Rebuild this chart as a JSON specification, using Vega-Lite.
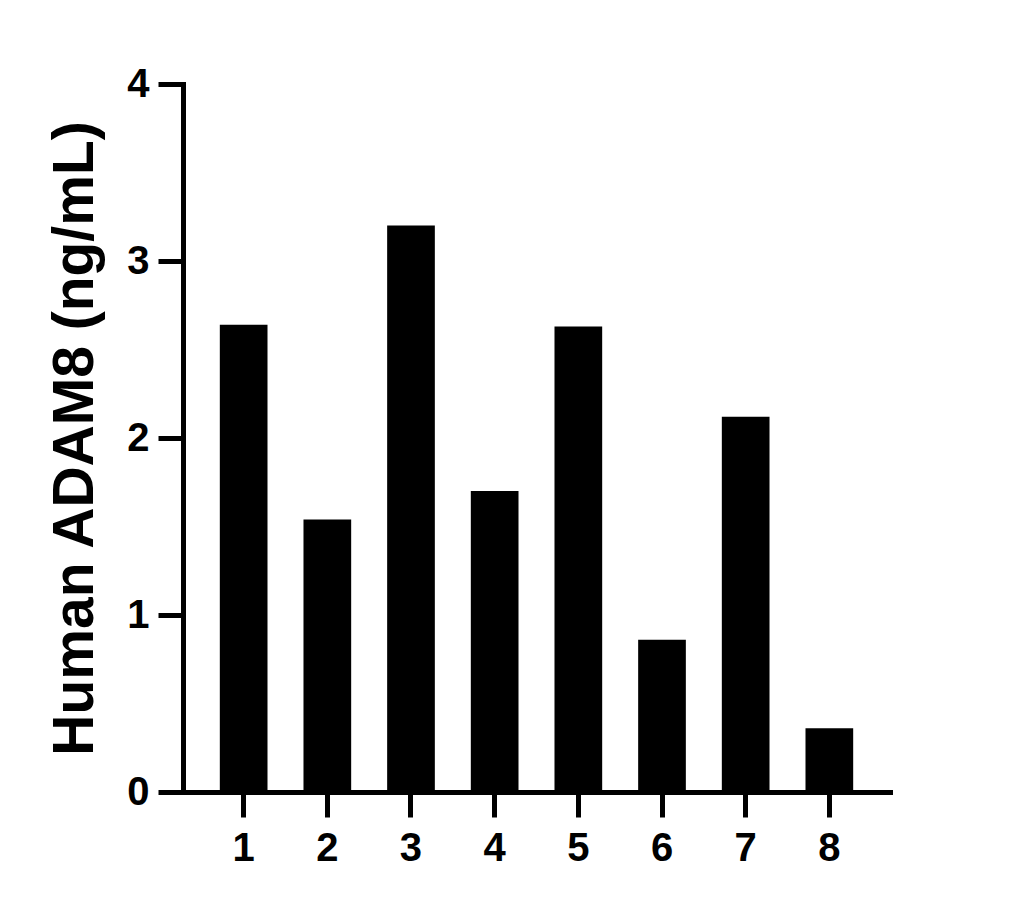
{
  "$schema": "https://vega.github.io/schema/vega-lite/v6.json",
  "autosize": "none",
  "padding": {"left": 183, "top": 84, "right": 138, "bottom": 116},
  "width": 707,
  "height": 708,
  "background": "white",
  "data": {
    "values": [
      {"sample": "1", "conc": 2.64},
      {"sample": "2", "conc": 1.54},
      {"sample": "3", "conc": 3.2},
      {"sample": "4", "conc": 1.7},
      {"sample": "5", "conc": 2.63},
      {"sample": "6", "conc": 0.86},
      {"sample": "7", "conc": 2.12},
      {"sample": "8", "conc": 0.36}
    ]
  },
  "config": {
    "view": {"stroke": null},
    "font": "Liberation Sans",
    "axis": {
      "grid": false,
      "domainColor": "black",
      "domainWidth": 5,
      "domainCap": "square",
      "tickColor": "black",
      "tickWidth": 5,
      "tickSize": 25,
      "labelColor": "black",
      "labelFont": "Liberation Sans",
      "labelFontWeight": "bold",
      "labelFontSize": 40,
      "titleColor": "black",
      "titleFont": "Liberation Sans",
      "titleFontWeight": "bold",
      "titleFontSize": 57
    }
  },
  "mark": {"type": "bar", "color": "black"},
  "encoding": {
    "x": {
      "field": "sample",
      "type": "ordinal",
      "sort": null,
      "scale": {"paddingInner": 0.43, "paddingOuter": 0.44},
      "axis": {"title": null, "labelAngle": 0, "labelPadding": 11}
    },
    "y": {
      "field": "conc",
      "type": "quantitative",
      "scale": {"domain": [0, 4], "nice": false},
      "axis": {
        "title": "Human ADAM8 (ng/mL)",
        "values": [0, 1, 2, 3, 4],
        "format": "d",
        "labelPadding": 9,
        "titlePadding": 22
      }
    }
  }
}
